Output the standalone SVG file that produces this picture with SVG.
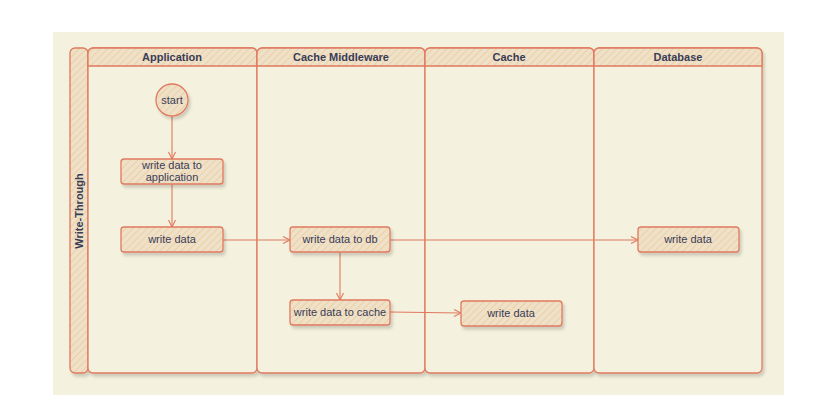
<svg xmlns="http://www.w3.org/2000/svg" width="831" height="411" viewBox="0 0 831 411">
<defs>
<pattern id="hatch" patternUnits="userSpaceOnUse" width="5" height="5" patternTransform="rotate(45)">
<rect width="5" height="5" fill="#EEE1CA"/>
<line x1="0" y1="0" x2="0" y2="5" stroke="#F1C995" stroke-width="1.6"/>
</pattern>
<filter id="sh" x="-10%" y="-10%" width="130%" height="140%">
<feDropShadow dx="2" dy="3" stdDeviation="1.5" flood-color="#000" flood-opacity="0.16"/>
</filter>
<marker id="arr" markerWidth="10" markerHeight="10" refX="8" refY="5" orient="auto" markerUnits="userSpaceOnUse">
<path d="M1,1.5 L8,5 L1,8.5" fill="none" stroke="#E07A5F" stroke-width="1.1"/>
</marker>
</defs>
<style>
.lane{fill:#F4F1DE;stroke:#E07A5F;stroke-width:1.3;filter:url(#sh)}
.hdr{fill:url(#hatch);stroke:#E07A5F;stroke-width:1.3}
.node{fill:url(#hatch);stroke:#E07A5F;stroke-width:1.3;filter:url(#sh)}
.t{font-family:"Liberation Sans",Arial,sans-serif;font-size:11px;fill:#393C56;text-anchor:middle}
.h{font-family:"Liberation Sans",Arial,sans-serif;font-size:11px;font-weight:bold;fill:#393C56;text-anchor:middle}
.c{fill:none;stroke:#E07A5F;stroke-width:1.1;marker-end:url(#arr)}
</style>
<rect x="0" y="0" width="831" height="411" fill="#FFFFFF"/>
<rect x="53" y="32" width="731" height="363" fill="#F4F1DE"/>

<g id="pool">
<rect class="node" x="70" y="48" width="18" height="325" rx="5"/>
<text class="h" transform="translate(83,211) rotate(-90)">Write-Through</text>
</g>

<g id="lane-application">
<rect class="lane" x="88" y="48" width="169" height="325" rx="5"/>
<path class="hdr" d="M88,66 V53 a5,5 0 0 1 5,-5 H252 a5,5 0 0 1 5,5 V66 Z"/>
<text class="h" x="172" y="61">Application</text>
</g>
<g id="lane-cache-middleware">
<rect class="lane" x="257" y="48" width="168" height="325" rx="5"/>
<path class="hdr" d="M257,66 V53 a5,5 0 0 1 5,-5 H420 a5,5 0 0 1 5,5 V66 Z"/>
<text class="h" x="341" y="61">Cache Middleware</text>
</g>
<g id="lane-cache">
<rect class="lane" x="425" y="48" width="169" height="325" rx="5"/>
<path class="hdr" d="M425,66 V53 a5,5 0 0 1 5,-5 H589 a5,5 0 0 1 5,5 V66 Z"/>
<text class="h" x="509" y="61">Cache</text>
</g>
<g id="lane-database">
<rect class="lane" x="594" y="48" width="168" height="325" rx="5"/>
<path class="hdr" d="M594,66 V53 a5,5 0 0 1 5,-5 H757 a5,5 0 0 1 5,5 V66 Z"/>
<text class="h" x="678" y="61">Database</text>
</g>

<g id="connectors">
<path class="c" d="M172,116 V159"/>
<path class="c" d="M172,184 V227"/>
<path class="c" d="M223,240 H290"/>
<path class="c" d="M390,240 H638"/>
<path class="c" d="M340,252 V300"/>
<path class="c" d="M390,312 L461,313"/>
</g>

<g id="start">
<circle class="node" cx="172" cy="100" r="16"/>
<text class="t" x="172" y="104">start</text>
</g>
<g id="write-data-to-application">
<rect class="node" x="121" y="159" width="102" height="25" rx="3"/>
<text class="t" x="172" y="169">write data to</text>
<text class="t" x="172" y="181">application</text>
</g>
<g id="app-write-data">
<rect class="node" x="121" y="227" width="102" height="25" rx="3"/>
<text class="t" x="172" y="243">write data</text>
</g>
<g id="write-data-to-db">
<rect class="node" x="290" y="227" width="100" height="25" rx="3"/>
<text class="t" x="340" y="243">write data to db</text>
</g>
<g id="write-data-to-cache">
<rect class="node" x="290" y="300" width="100" height="25" rx="3"/>
<text class="t" x="340" y="316">write data to cache</text>
</g>
<g id="cache-write-data">
<rect class="node" x="461" y="301" width="101" height="25" rx="3"/>
<text class="t" x="511" y="317">write data</text>
</g>
<g id="db-write-data">
<rect class="node" x="638" y="227" width="101" height="25" rx="3"/>
<text class="t" x="688" y="243">write data</text>
</g>
</svg>
